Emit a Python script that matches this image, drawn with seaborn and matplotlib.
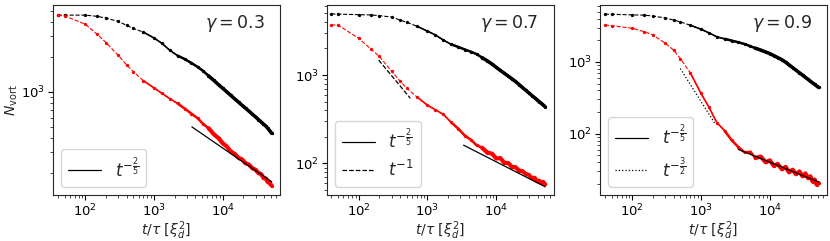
import matplotlib
matplotlib.use('Agg')
import matplotlib.pyplot as plt
import seaborn as sns

# time grid (t / tau), shared by all curves
t = [40, 50, 100, 150, 200, 300, 400, 500, 700, 1000,
     1300, 1700, 2200, 2800, 3500, 4300, 5200, 6200, 7400, 8700,
     10000, 11500, 13000, 15000, 17000, 19000, 21500, 24000, 27000, 30000,
     33000, 36000, 39000, 42000, 45000, 48000, 51500]

# gamma = 0.3
black_03 = [4580, 4580, 4580, 4470, 4315, 4050, 3740, 3520, 3270, 2910,
            2620, 2280, 2050, 1915, 1770, 1640, 1510, 1375, 1255, 1150,
            1072, 996, 935, 867, 813, 767, 721, 681, 641, 607,
            577, 551, 528, 508, 486, 462, 438]
red_03 = [4560, 4510, 3830, 3126, 2660, 2070, 1706, 1493, 1247, 1081,
          970, 873, 793, 716, 649, 592, 527, 487, 431, 398,
          360, 337, 307, 291, 269, 262, 242, 236, 219, 213,
          199, 196, 182, 179, 167, 164, 155]

# gamma = 0.7
black_07 = [4910, 4890, 4820, 4786, 4700, 4530, 4190, 3955, 3565, 3140,
            2840, 2490, 2228, 2080, 1945, 1832, 1722, 1578, 1449, 1330,
            1222, 1127, 1052, 971, 904, 847, 782, 724, 670, 625,
            587, 556, 527, 502, 480, 460, 438]
red_07 = [3680, 3680, 2600, 1972, 1622, 1107, 853, 710, 566, 456,
          405, 359, 293, 248, 206, 185, 160, 151, 133, 129,
          114, 115, 102, 101, 91, 91, 83, 82, 76, 74,
          68, 69, 63, 64, 60, 62, 58]

# gamma = 0.9
black_09 = [4620, 4600, 4520, 4477, 4355, 4090, 3830, 3606, 3243, 2851,
            2541, 2234, 2094, 1977, 1875, 1774, 1656, 1552, 1459, 1374,
            1306, 1222, 1151, 1074, 991, 912, 834, 769, 706, 653,
            608, 571, 538, 510, 485, 462, 440]
red_09 = [3260, 3200, 2938, 2636, 2360, 1837, 1455, 1114, 703, 364,
          236, 143, 110, 81, 65, 55, 56, 46, 48, 40,
          42.5, 35.5, 38, 32, 34.5, 29, 31.5, 27.3, 29.8, 25.5,
          28, 24, 25.5, 21.5, 23, 19.5, 20.5]

# power-law guides (end points)
fit_t_03 = [3550, 51500]
fit_n_03 = [499, 168]
fit_t_07 = [3350, 51500]
fit_n_07 = [161, 54.5]
fit1_t_07 = [195, 564]
fit1_n_07 = [1479, 545]
fit_t_09 = [3480, 51600]
fit_n_09 = [60.4, 21.2]
fit32_t_09 = [500, 1600]
fit32_n_09 = [807, 138]

sns.set_style('ticks')
plt.rcParams['font.family'] = ['DejaVu Sans']
plt.rcParams['mathtext.fontset'] = 'dejavusans'

lab25 = r'$t^{-\frac{2}{5}}$'
panels = [
    dict(gamma='0.3', black=black_03, red=red_03, ylim=(129, 5600),
         fits=[(fit_t_03, fit_n_03, '-', lab25)]),
    dict(gamma='0.7', black=black_07, red=red_07, ylim=(44, 6200),
         fits=[(fit_t_07, fit_n_07, '-', lab25),
               (fit1_t_07, fit1_n_07, '--', r'$t^{-1}$')]),
    dict(gamma='0.9', black=black_09, red=red_09, ylim=(14, 6200),
         fits=[(fit_t_09, fit_n_09, '-', lab25),
               (fit32_t_09, fit32_n_09, ':', r'$t^{-\frac{3}{2}}$')]),
]

fig = plt.figure(figsize=(8.3, 2.41), dpi=100)
lefts = [53, 326.5, 600]
# samples get denser with time (linear sampling on a log axis):
# overlay thicker strokes where the points merge into a band
layers = [(8, 1.2), (12, 1.8), (17, 2.5)]

for i, (p, left) in enumerate(zip(panels, lefts)):
    ax = fig.add_axes([left / 830, 46 / 241, 227 / 830, 190 / 241])
    ax.set_xscale('log')
    ax.set_yscale('log')
    for col, vals in (('k', p['black']), ('r', p['red'])):
        sns.lineplot(x=t, y=vals, ax=ax, color=col, linestyle='--', lw=0.8,
                     marker='o', markersize=2.4, markeredgewidth=0,
                     markeredgecolor=col, errorbar=None, sort=False)
        for start, lw in layers:
            w = lw + (0.5 if col == 'r' and start == 17 else 0)
            sns.lineplot(x=t[start:], y=vals[start:], ax=ax, color=col,
                         linestyle='-', lw=w, errorbar=None, sort=False)
    for ft, fn, ls, lab in p['fits']:
        sns.lineplot(x=ft, y=fn, ax=ax, color='k', linestyle=ls, lw=0.9,
                     errorbar=None, label=lab)
    ax.legend(loc='lower left', fontsize=12, frameon=True, framealpha=0.8,
              edgecolor='0.8', fancybox=True)
    ax.set_xlim(34, 68000)
    ax.set_ylim(*p['ylim'])
    ax.text(0.935, 0.9, r'$\gamma = %s$' % p['gamma'], transform=ax.transAxes,
            ha='right', va='center', fontsize=12.5)
    ax.set_xlabel(r'$t/\tau\ [\xi_d^2]$', fontsize=10, labelpad=0)
    if i == 0:
        ax.set_ylabel(r'$N_\mathrm{vort}$', fontsize=10, labelpad=1)
    else:
        ax.set_ylabel('')
    ax.tick_params(labelsize=9.5, colors='k', width=0.8, pad=2)
    ax.tick_params(which='minor', width=0.6)
    for s in ax.spines.values():
        s.set_color('0.15')
        s.set_linewidth(0.8)

fig.savefig('out.png', dpi=100)
